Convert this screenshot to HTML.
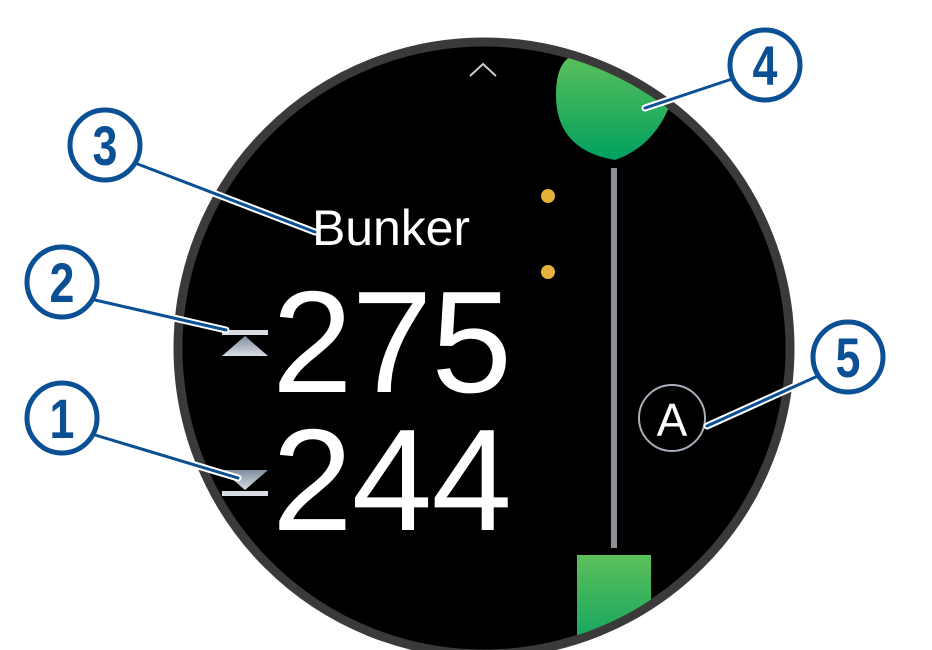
<!DOCTYPE html>
<html><head><style>
html,body{margin:0;padding:0;background:#fff;width:932px;height:650px;overflow:hidden}
</style></head><body>
<svg width="932" height="650" viewBox="0 0 932 650" xmlns="http://www.w3.org/2000/svg">
<defs>
<linearGradient id="g1" x1="0" y1="0" x2="0" y2="1"><stop offset="0" stop-color="#5cbf5a"/><stop offset="1" stop-color="#00a060"/></linearGradient>
<linearGradient id="tri" x1="0" y1="0" x2="0" y2="1"><stop offset="0" stop-color="#7f8ea0"/><stop offset="1" stop-color="#d8dde4"/></linearGradient>
<clipPath id="c"><circle cx="484" cy="348" r="302"/></clipPath>
</defs>
<circle cx="484" cy="348" r="306" fill="#000" stroke="#3a3a3a" stroke-width="9"/>
<g clip-path="url(#c)">
<path d="M556 95 Q556 60 575 55 L680 60 Q672 140 615 160 Q556 150 556 95Z" fill="url(#g1)"/>
<rect x="577" y="555" width="74" height="110" fill="url(#g1)"/>
</g>
<polyline points="470,76 483,64 496,76" fill="none" stroke="#ccc" stroke-width="2"/>
<rect x="611" y="168" width="6" height="380" fill="#8a8f96"/>
<circle cx="548" cy="196" r="7" fill="#e6b33a"/>
<circle cx="548" cy="272" r="7" fill="#e6b33a"/>
<circle cx="672" cy="418" r="33" fill="none" stroke="#a7b0ba" stroke-width="2"/>
<text x="672" y="436" font-family="Liberation Sans, sans-serif" font-size="46" fill="#fff" text-anchor="middle">A</text>
<text x="312" y="245" font-family="Liberation Sans, sans-serif" font-size="50" fill="#fff" textLength="158">Bunker</text>
<text x="272" y="392" font-family="Liberation Sans, sans-serif" font-size="145" fill="#fff" textLength="240">275</text>
<text x="272" y="530" font-family="Liberation Sans, sans-serif" font-size="145" fill="#fff" textLength="240">244</text>
<rect x="222" y="330" width="46" height="5" fill="#d8dde4"/>
<polygon points="245,336 222,356 268,356" fill="url(#tri)"/>
<polygon points="245,490 222,470 268,470" fill="url(#tri)"/>
<rect x="222" y="491" width="46" height="5" fill="#d8dde4"/>
<g stroke-linecap="round">
<g stroke="#fff" stroke-width="7">
<line x1="135" y1="163" x2="315" y2="232"/><line x1="95" y1="300" x2="226" y2="330"/>
<line x1="95" y1="435" x2="238" y2="478"/><line x1="735" y1="78" x2="645" y2="108"/>
<line x1="820" y1="375" x2="707" y2="426"/></g>
<g stroke="#0b4f94" stroke-width="3">
<line x1="135" y1="163" x2="315" y2="232"/><line x1="95" y1="300" x2="226" y2="330"/>
<line x1="95" y1="435" x2="238" y2="478"/><line x1="735" y1="78" x2="645" y2="108"/>
<line x1="820" y1="375" x2="707" y2="426"/></g>
</g>
<g stroke="#0b4f94" stroke-width="5" fill="#fff">
<circle cx="105" cy="145" r="35"/><circle cx="62" cy="282" r="35"/>
<circle cx="62" cy="418" r="35"/><circle cx="765" cy="65" r="35"/>
<circle cx="848" cy="357" r="35"/>
</g>
<g font-family="Liberation Sans, sans-serif" font-weight="bold" font-size="56" fill="#0b4f94" text-anchor="middle">
<text transform="translate(105,165) scale(0.8,1)">3</text>
<text transform="translate(62,302) scale(0.8,1)">2</text>
<text transform="translate(62,438) scale(0.8,1)">1</text>
<text transform="translate(765,85) scale(0.8,1)">4</text>
<text transform="translate(848,377) scale(0.8,1)">5</text>
</g>
</svg>
</body></html>
